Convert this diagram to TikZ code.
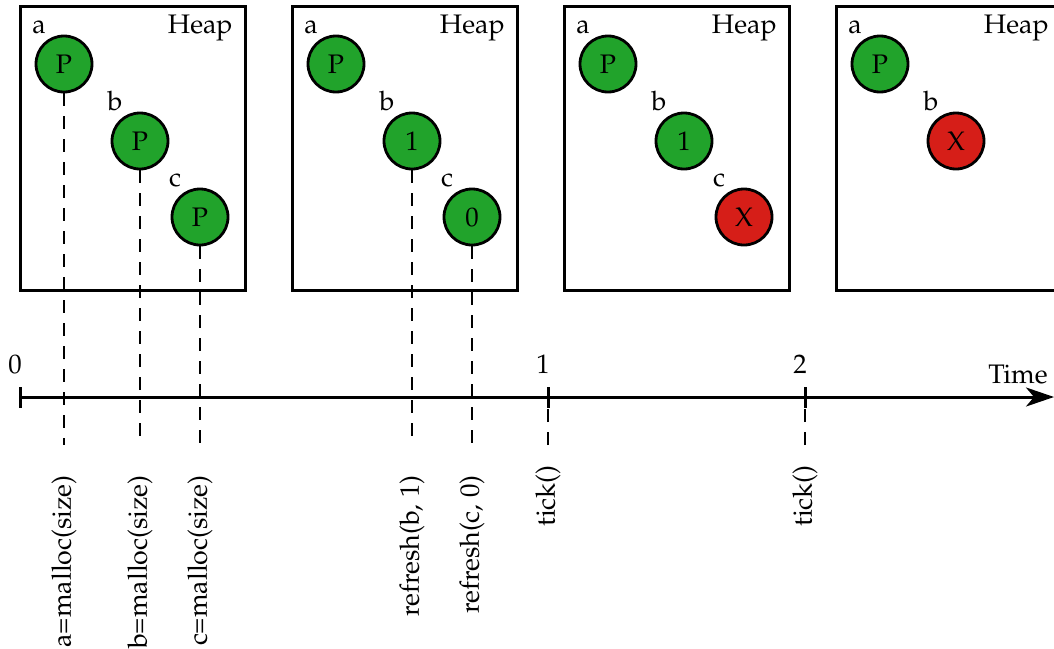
\documentclass[tikz,border=0pt]{standalone}
\usepackage[T1]{fontenc}
\usepackage{mathpazo}
\usetikzlibrary{arrows.meta}
\definecolor{objgreen}{RGB}{33,163,43}
\definecolor{objred}{RGB}{214,30,24}
\begin{document}
\begin{tikzpicture}[x=0.5pt,y=-0.5pt,
  font=\fontsize{13.4}{15}\selectfont,
  heapbox/.style={draw,line width=1.5pt},
  obj/.style={circle,draw,line width=1.4pt,minimum size=28pt,inner sep=0pt},
  live/.style={obj,fill=objgreen},
  dead/.style={obj,fill=objred},
  tag/.style={anchor=base,inner sep=0pt},
  guide/.style={line width=0.75pt,dash pattern=on 6.5pt off 5pt},
  call/.style={rotate=90,anchor=east,inner sep=0pt},
  axis/.style={line width=1.5pt},
]
\useasboundingbox (0,0) rectangle (1054,648);
\clip (0,0) rectangle (1054,648);

% four snapshots of the heap
\foreach \i in {0,1,2,3}{
  \draw[heapbox] (20+272*\i,6) rectangle (245+272*\i,290);
  \node[anchor=base east,inner sep=0pt] (heap\i) at (233+272*\i,33) {Heap};
}

% snapshot 1
\node[live] (a0) at (64,64) {P};
\node[live] (b0) at (140,141) {P};
\node[live] (c0) at (200,217) {P};
% snapshot 2
\node[live] (a1) at (336,64) {P};
\node[live] (b1) at (412,141) {1};
\node[live] (c1) at (472,217) {0};
% snapshot 3
\node[live] (a2) at (608,64) {P};
\node[live] (b2) at (684,141) {1};
\node[dead] (c2) at (744,217) {X};
% snapshot 4
\node[live] (a3) at (880,64) {P};
\node[dead] (b3) at (956,141) {X};

% variable names
\foreach \i in {0,1,2,3}{
  \node[tag] (la\i) at ([shift={(-25,-31)}]a\i.center) {a};
  \node[tag] (lb\i) at ([shift={(-25,-31)}]b\i.center) {b};
}
\foreach \i in {0,1,2}{
  \node[tag] (lc\i) at ([shift={(-25,-31)}]c\i.center) {c};
}

% time axis
\coordinate (t0) at (20,397);
\coordinate (t1) at (548,397);
\coordinate (t2) at (805,397);
\coordinate (tend) at (1054,397);
\draw[axis,-{Stealth[length=14pt,width=9.5pt,inset=4pt]}] (t0) -- (tend);
\foreach \t in {t0,t1,t2}{
  \draw[axis] (\t) ++(0,-10) -- ++(0,21);
}
\node[tag] (n0) at (15,373) {0};
\node[tag] (n1) at (543,373) {1};
\node[tag] (n2) at (800,373) {2};
\node[anchor=base east,inner sep=0pt] (timelbl) at (1048,383) {Time};

% operations on the time line
\coordinate (ea) at (64,445);
\coordinate (eb) at (140,445);
\coordinate (ec) at (200,445);
\coordinate (erb) at (412,445);
\coordinate (erc) at (472,445);
\coordinate (et1) at (548,445);
\coordinate (et2) at (805,445);

\draw[guide] (a0) -- (ea);
\draw[guide] (b0) -- (eb);
\draw[guide] (c0) -- (ec);
\draw[guide] (b1) -- (erb);
\draw[guide] (c1) -- (erc);
\draw[guide] (et1) -- (t1);
\draw[guide] (et2) -- (t2);

\node[call] (op1) at (64,475) {a=malloc(size)};
\node[call] (op2) at (140,475) {b=malloc(size)};
\node[call] (op3) at (200,475) {c=malloc(size)};
\node[call] (op4) at (412,475) {refresh(b, 1)};
\node[call] (op5) at (472,475) {refresh(c, 0)};
\node[call] (op6) at (548,465) {tick()};
\node[call] (op7) at (805,465) {tick()};
\end{tikzpicture}
\end{document}
